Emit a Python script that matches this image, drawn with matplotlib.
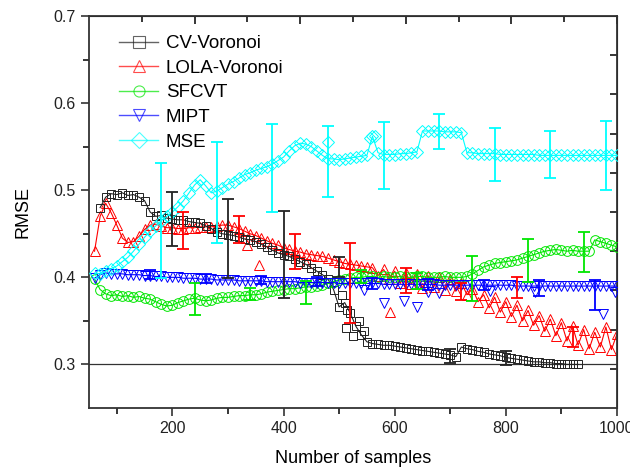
import numpy as np
import matplotlib
matplotlib.use("Agg")
import matplotlib.pyplot as plt
from matplotlib.lines import Line2D

plt.rcParams['font.family'] = ['Liberation Sans', 'DejaVu Sans']

labels = ["CV-Voronoi", "LOLA-Voronoi", "SFCVT", "MIPT", "MSE"]
colors = ["#222222", "#ff0000", "#00e600", "#0000ff", "#00ffff"]
markers = ["s", "^", "o", "v", "D"]

# ---------------- data ----------------
x_cv = np.arange(70, 931, 10)
y_cv = [0.480, 0.492, 0.496, 0.495, 0.497, 0.494, 0.495, 0.492, 0.488,
        0.475, 0.470, 0.471, 0.468, 0.467, 0.466, 0.466, 0.464, 0.463, 0.462,
        0.459, 0.456, 0.452, 0.450, 0.449, 0.448, 0.446, 0.444, 0.443, 0.441,
        0.438, 0.435, 0.431, 0.428, 0.426, 0.424, 0.421, 0.418, 0.415, 0.411,
        0.407, 0.403, 0.398, 0.386, 0.366, 0.371, 0.359, 0.344, 0.334, 0.326,
        0.324, 0.323, 0.322, 0.322, 0.321, 0.320, 0.319, 0.318, 0.317, 0.316,
        0.315, 0.314, 0.313, 0.312, 0.311, 0.309, 0.320, 0.318, 0.317, 0.315,
        0.314, 0.312, 0.311, 0.310, 0.308, 0.307, 0.306, 0.305, 0.304, 0.303,
        0.303, 0.302, 0.302, 0.301, 0.301, 0.300, 0.300, 0.300]
out_cv_x = [505, 512, 515, 525, 535, 545]
out_cv_y = [0.380, 0.342, 0.362, 0.333, 0.350, 0.338]
err_cv_x = [200, 300, 400, 500, 700, 800]
err_cv_lo = [0.436, 0.399, 0.376, 0.400, 0.302, 0.299]
err_cv_hi = [0.498, 0.490, 0.476, 0.423, 0.318, 0.315]

x_lola = np.arange(60, 1001, 10)
y_lola = [0.430, 0.470, 0.485, 0.474, 0.460, 0.445, 0.440, 0.441, 0.447, 0.455,
          0.460, 0.461, 0.459, 0.457, 0.457, 0.456, 0.456, 0.457, 0.457, 0.458,
          0.458, 0.458, 0.459, 0.460, 0.460, 0.458, 0.456, 0.453, 0.450, 0.448,
          0.445, 0.442, 0.439, 0.437, 0.434, 0.432, 0.430, 0.429, 0.427, 0.426,
          0.425, 0.424, 0.422, 0.420, 0.418, 0.416, 0.415, 0.414, 0.413, 0.412,
          0.411, 0.402, 0.409, 0.398, 0.407, 0.393, 0.405, 0.392, 0.404, 0.388,
          0.402, 0.389, 0.400, 0.386, 0.398, 0.384, 0.394, 0.380, 0.387, 0.372,
          0.380, 0.365, 0.377, 0.360, 0.372, 0.355, 0.368, 0.350, 0.362, 0.345,
          0.356, 0.338, 0.352, 0.333, 0.348, 0.327, 0.344, 0.322, 0.340, 0.318,
          0.337, 0.320, 0.343, 0.317, 0.335]
out_lola_x = [335, 355, 440, 592]
out_lola_y = [0.437, 0.414, 0.417, 0.360]
err_lola_x = [220, 320, 420, 520, 620, 720, 820, 920]
err_lola_lo = [0.433, 0.439, 0.410, 0.348, 0.382, 0.374, 0.376, 0.320]
err_lola_hi = [0.475, 0.470, 0.450, 0.439, 0.411, 0.393, 0.400, 0.343]

x_sfcvt = np.arange(60, 1001, 10)
y_sfcvt = [0.398, 0.386, 0.381, 0.379, 0.380, 0.378, 0.379, 0.377, 0.378, 0.376,
           0.375, 0.372, 0.369, 0.367, 0.368, 0.371, 0.373, 0.375, 0.376, 0.374,
           0.373, 0.374, 0.376, 0.377, 0.377, 0.378, 0.379, 0.379, 0.380, 0.380,
           0.381, 0.383, 0.384, 0.385, 0.386, 0.387, 0.387, 0.388, 0.389, 0.389,
           0.390, 0.391, 0.393, 0.395, 0.397, 0.398, 0.399, 0.400, 0.400, 0.401,
           0.401, 0.400, 0.401, 0.400, 0.400, 0.401, 0.400, 0.400, 0.401, 0.401,
           0.400, 0.400, 0.400, 0.401, 0.400, 0.400, 0.400, 0.401, 0.404, 0.408,
           0.412, 0.414, 0.416, 0.417, 0.418, 0.419, 0.420, 0.422, 0.424, 0.426,
           0.428, 0.430, 0.431, 0.432, 0.431, 0.430, 0.431, 0.430, 0.430, 0.430,
           0.443, 0.441, 0.439, 0.437, 0.435]
err_sfcvt_x = [240, 340, 440, 540, 640, 740, 840, 940]
err_sfcvt_lo = [0.357, 0.374, 0.369, 0.393, 0.387, 0.373, 0.395, 0.406]
err_sfcvt_hi = [0.393, 0.388, 0.396, 0.408, 0.405, 0.424, 0.444, 0.452]

x_mipt = np.arange(60, 1001, 10)
y_mipt = [0.399, 0.403, 0.405, 0.404, 0.404, 0.404, 0.403, 0.403, 0.403, 0.402,
          0.402, 0.401, 0.401, 0.400, 0.400, 0.400, 0.399, 0.399, 0.399, 0.398,
          0.398, 0.398, 0.397, 0.397, 0.397, 0.397, 0.396, 0.396, 0.396, 0.396,
          0.396, 0.395, 0.395, 0.395, 0.395, 0.395, 0.395, 0.394, 0.394, 0.394,
          0.394, 0.394, 0.394, 0.394, 0.393, 0.393, 0.393, 0.393, 0.393, 0.393,
          0.393, 0.393, 0.392, 0.392, 0.392, 0.392, 0.392, 0.392, 0.392, 0.392,
          0.392, 0.392, 0.391, 0.391, 0.391, 0.391, 0.391, 0.391, 0.391, 0.391,
          0.391, 0.391, 0.391, 0.391, 0.391, 0.391, 0.390, 0.390, 0.390, 0.390,
          0.390, 0.390, 0.390, 0.390, 0.390, 0.390, 0.390, 0.390, 0.390, 0.390,
          0.390, 0.390, 0.390, 0.390, 0.390]
out_mipt_x = [544, 580, 616, 641, 660, 680, 772, 853, 974, 997]
out_mipt_y = [0.386, 0.371, 0.373, 0.366, 0.383, 0.382, 0.384, 0.383, 0.358, 0.383]
err_mipt_x = [160, 260, 360, 460, 560, 660, 760, 860, 960]
err_mipt_lo = [0.398, 0.394, 0.392, 0.390, 0.387, 0.385, 0.386, 0.378, 0.362]
err_mipt_hi = [0.408, 0.404, 0.402, 0.400, 0.399, 0.398, 0.397, 0.397, 0.397]

x_mse = np.arange(60, 1001, 10)
y_mse = [0.405, 0.404, 0.407, 0.410, 0.413, 0.418, 0.423, 0.430, 0.438, 0.446,
         0.453, 0.459, 0.465, 0.470, 0.475, 0.481, 0.488, 0.497, 0.506, 0.512,
         0.505, 0.497, 0.499, 0.503, 0.507, 0.510, 0.514, 0.518, 0.520, 0.523,
         0.525, 0.527, 0.530, 0.534, 0.538, 0.545, 0.551, 0.554, 0.553, 0.550,
         0.545, 0.540, 0.536, 0.536, 0.535, 0.536, 0.537, 0.538, 0.539, 0.540,
         0.562, 0.543, 0.541, 0.541, 0.541, 0.542, 0.542, 0.543, 0.544, 0.568,
         0.568, 0.568, 0.568, 0.567, 0.567, 0.567, 0.566, 0.543, 0.543, 0.542,
         0.542, 0.542, 0.542, 0.541, 0.541, 0.541, 0.541, 0.541, 0.541, 0.541,
         0.540, 0.540, 0.540, 0.540, 0.540, 0.540, 0.540, 0.540, 0.540, 0.540,
         0.540, 0.540, 0.540, 0.540, 0.540]
out_mse_x = [480, 555, 565]
out_mse_y = [0.555, 0.560, 0.562]
err_mse_x = [180, 280, 380, 480, 580, 680, 780, 880, 980]
err_mse_lo = [0.399, 0.439, 0.475, 0.492, 0.501, 0.547, 0.511, 0.514, 0.500]
err_mse_hi = [0.531, 0.555, 0.576, 0.574, 0.578, 0.587, 0.572, 0.568, 0.580]

x_ticks = [200, 400, 600, 800, 1000]
y_ticks = [0.3, 0.4, 0.5, 0.6, 0.7]

# ---------------- figure ----------------
fig = plt.figure(figsize=(6.3, 4.68), dpi=100)
ax = fig.add_axes([89/630, 1-408/468, (617-89)/630, (408-16)/468])

series = [
    (x_cv, y_cv, out_cv_x, out_cv_y, err_cv_x, err_cv_lo, err_cv_hi),
    (x_lola, y_lola, out_lola_x, out_lola_y, err_lola_x, err_lola_lo, err_lola_hi),
    (x_sfcvt, y_sfcvt, [], [], err_sfcvt_x, err_sfcvt_lo, err_sfcvt_hi),
    (x_mipt, y_mipt, out_mipt_x, out_mipt_y, err_mipt_x, err_mipt_lo, err_mipt_hi),
    (x_mse, y_mse, out_mse_x, out_mse_y, err_mse_x, err_mse_lo, err_mse_hi),
]
msizes = {"s": 6.0, "^": 7.5, "o": 7.0, "v": 7.5, "D": 6.5}
order = [1, 0, 2, 3, 4]
for k, i in enumerate(order):
    xs, ys, ox, oy, ex, elo, ehi = series[i]
    c, m = colors[i], markers[i]
    ms = msizes[m]
    ax.plot(xs, ys, color=c, lw=0.8, marker=m, ms=ms, mfc='none', mec=c,
            mew=0.7, zorder=2 + k)
    if len(ox):
        ax.plot(ox, oy, ls='none', marker=m, ms=ms, mfc='none', mec=c,
                mew=0.7, zorder=2 + k)
    elo = np.array(elo); ehi = np.array(ehi)
    ax.errorbar(ex, (elo + ehi) / 2, yerr=(ehi - elo) / 2, fmt='none',
                ecolor=c, elinewidth=1.3, capsize=4.5, capthick=1.3,
                zorder=8 + k)

ax.axhline(0.3, color='#333333', lw=0.9, zorder=1)

ax.set_xlim(50, 1000)
ax.set_ylim(0.25, 0.7)
ax.set_xticks(x_ticks)
ax.set_xticks([100, 300, 500, 700, 900], minor=True)
ax.set_yticks(y_ticks)
ax.set_yticks([0.35, 0.45, 0.55, 0.65], minor=True)
ax.set_yticklabels(["0.3", "0.4", "0.5", "0.6", "0.7"])
ax.tick_params(which='major', direction='out', length=6, width=1.1,
               labelsize=11.5, colors='#222222')
ax.tick_params(which='minor', direction='out', length=4, width=1.1)
for s in ax.spines.values():
    s.set_linewidth(1.3)
    s.set_color('#333333')

top = ax.secondary_xaxis('top')
top.set_xticks([240, 430, 620, 810, 1000])
top.set_xticks([145, 335, 525, 715, 905], minor=True)
top.tick_params(which='both', direction='in', labeltop=False, width=1.1)
top.tick_params(which='major', length=6)
top.tick_params(which='minor', length=4)

right = ax.secondary_yaxis('right')
right.set_yticks([0.25 + 0.045 * k for k in range(1, 10)])
right.tick_params(direction='in', labelright=False, length=5, width=1.1)

ax.set_xlabel("Number of samples", fontsize=13, labelpad=10)
ax.set_ylabel("RMSE", fontsize=13, labelpad=16)

handles = [Line2D([], [], color=colors[i], lw=1.0, marker=markers[i], ms=8,
                  mfc='none', mec=colors[i], mew=0.8, alpha=0.7)
           for i in range(5)]
fig.legend(handles, labels, loc='upper left',
           bbox_to_anchor=(119/630, 1-35/468), frameon=False, fontsize=13.5,
           handlelength=2.1, handletextpad=0.4, labelspacing=0.4,
           borderpad=0, borderaxespad=0)

fig.savefig("out.png", dpi=100)
